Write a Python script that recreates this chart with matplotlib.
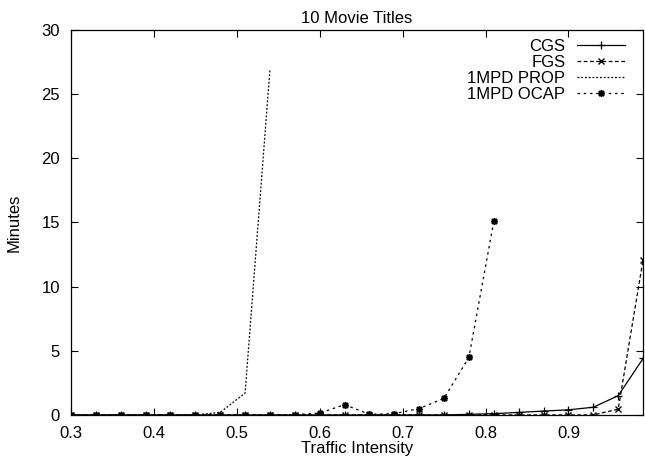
import matplotlib
matplotlib.use("Agg")
import matplotlib.pyplot as plt

x = [0.30, 0.33, 0.36, 0.39, 0.42, 0.45, 0.48, 0.51, 0.54, 0.57, 0.60, 0.63,
     0.66, 0.69, 0.72, 0.75, 0.78, 0.81, 0.84, 0.87, 0.90, 0.93, 0.96, 0.99]
cgs = [0, 0, 0, 0, 0, 0, 0, 0, 0, 0, 0, 0,
       0, 0, 0, 0, 0.05, 0.1, 0.2, 0.3, 0.4, 0.6, 1.5, 4.4]
fgs = [0, 0, 0, 0, 0, 0, 0, 0, 0, 0, 0, 0,
       0, 0, 0, 0, 0, 0, 0, 0, 0, 0, 0.45, 12.1]
prop_x = [0.30, 0.33, 0.36, 0.39, 0.42, 0.45, 0.48, 0.51, 0.54]
prop = [0, 0, 0, 0, 0, 0, 0.2, 1.7, 26.9]
ocap_x = [0.30, 0.33, 0.36, 0.39, 0.42, 0.45, 0.48, 0.51, 0.54, 0.57, 0.60,
          0.63, 0.66, 0.69, 0.72, 0.75, 0.78, 0.81]
ocap = [0, 0, 0, 0, 0, 0, 0, 0, 0, 0.02, 0.15, 0.8, 0.05, 0.1, 0.5, 1.3, 4.5, 15.1]

xticks = [0.3, 0.4, 0.5, 0.6, 0.7, 0.8, 0.9]
yticks = [0, 5, 10, 15, 20, 25, 30]

plt.rcParams['font.family'] = ['Liberation Sans', 'DejaVu Sans']
plt.rcParams['font.size'] = 12

fig = plt.figure(figsize=(6.45, 4.58), dpi=100)
ax = fig.add_axes([0.110, 0.094, 0.887, 0.8405])

lw = 0.9
ax.plot(x, cgs, color='black', lw=lw, ls='-', marker='+', ms=6, mew=0.9, label='CGS')
ax.plot(x, fgs, color='black', lw=lw, ls=(0, (3, 2)), marker='x', ms=4.5, mew=1.0, label='FGS')
ax.plot(prop_x, prop, color='black', lw=lw, ls=(0, (1.5, 1.5)), label='1MPD PROP')
ax.plot(ocap_x, ocap, color='black', lw=lw, ls=(0, (2, 3)), marker=(8, 2, 0), ms=5, mew=1.1,
        label='1MPD OCAP')

ax.set_xlim(0.3, 0.99)
ax.set_ylim(0, 30)
ax.set_xticks(xticks)
ax.set_xticklabels([f"{t:.1f}" for t in xticks])
ax.set_yticks(yticks)
ax.tick_params(axis='both', direction='in', top=True, right=True, length=5, width=0.8, labelsize=12)
ax.tick_params(axis='x', pad=8)
ax.tick_params(axis='y', pad=8)
for s in ax.spines.values():
    s.set_linewidth(0.9)

ax.set_title('10 Movie Titles', fontsize=12, pad=5)
ax.set_xlabel('Traffic Intensity', fontsize=12, labelpad=0)
ax.set_ylabel('Minutes', fontsize=12, labelpad=14)

leg = ax.legend(loc='upper right', markerfirst=False, frameon=False, fontsize=12,
                handlelength=2.9, handletextpad=0.7, labelspacing=0.05,
                borderaxespad=0.15, bbox_to_anchor=(0.985, 1.0))

fig.savefig('out.png', dpi=100)
